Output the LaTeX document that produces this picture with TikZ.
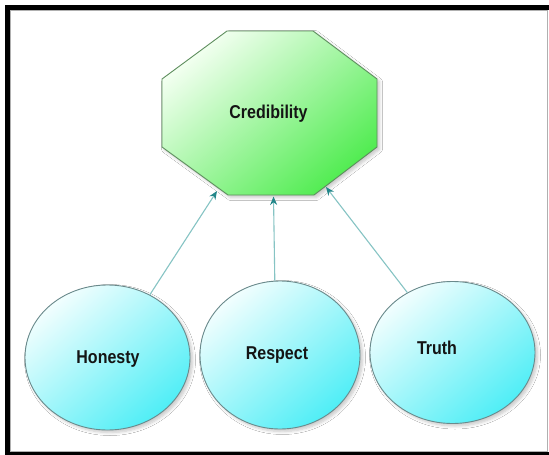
\documentclass[tikz,border=0pt]{standalone}
\usepackage{fontspec}
\newfontfamily\lblfont[FakeStretch=0.86]{Liberation Sans}
\usetikzlibrary{arrows.meta,shadows.blur}
\definecolor{octlight}{HTML}{F2FFF0}
\definecolor{octdark}{HTML}{52EC52}
\definecolor{octline}{HTML}{5E8E5E}
\definecolor{bublight}{HTML}{F2FEFE}
\definecolor{bubdark}{HTML}{4FEEF6}
\definecolor{bubline}{HTML}{6A8A8C}
\definecolor{linkline}{HTML}{86C4C4}
\definecolor{linktip}{HTML}{23878A}
\definecolor{txt}{HTML}{141414}
\definecolor{framegray}{HTML}{B0B0B0}
\tikzset{
  softshadow/.style={blur shadow={shadow xshift=2.5pt,shadow yshift=-2.5pt,shadow blur steps=6,shadow blur radius=3pt,shadow opacity=22}},
  bub/.style={ellipse,draw=bubline,line width=0.9pt,inner sep=0pt,
    top color=bublight,bottom color=bubdark,shading angle=40,softshadow},
  lbl/.style={font=\lblfont\bfseries\fontsize{18.6}{20}\selectfont,text=txt,anchor=base,inner sep=0pt},
  link/.style={draw=linkline,line width=1.1pt,
    -{Stealth[length=8.5pt,width=7pt,color=linktip]}}
}
\usetikzlibrary{shapes.geometric}
\begin{document}
\begin{tikzpicture}[x=1pt,y=-1pt]
\useasboundingbox (0,0) rectangle (549,455);
\fill[white] (0,0) rectangle (549,455);
% frame
\draw[framegray,line width=1pt] (10.5,10.5) rectangle (547,451);
\fill[black] (5,5) rectangle (549,10);
\fill[black] (5,5) rectangle (10,455);
\fill[black] (5,452) rectangle (549,455);
% octagon
\shade[draw=octline,line width=0.9pt,top color=octlight,bottom color=octdark,shading angle=40,softshadow]
  (227,31) -- (313,31) -- (377,79) -- (377,147) -- (314,195) -- (228,195) -- (162,147) -- (162,79) -- cycle;
\node[lbl] (cred) at (268.5,118) {Credibility};
\coordinate (tipH) at (217,191);
\coordinate (tipR) at (273.5,196.5);
\coordinate (tipT) at (326,187);
% bubbles
\node[bub,minimum width=165pt,minimum height=145pt] (honesty) at (107.5,357.5) {};
\node[bub,minimum width=160pt,minimum height=148pt] (respect) at (280,355) {};
\node[bub,minimum width=165pt,minimum height=142pt] (truth) at (452.5,352.5) {};
\node[lbl] (honestylbl) at (108,363.5) {Honesty};
\node[lbl] (respectlbl) at (277,359) {Respect};
\node[lbl] (truthlbl) at (437,354) {Truth};
% links
\draw[link] (honesty.56) -- (tipH);
\draw[link] (respect.94) -- (tipR);
\draw[link] (truth.127) -- (tipT);
\end{tikzpicture}
\end{document}
